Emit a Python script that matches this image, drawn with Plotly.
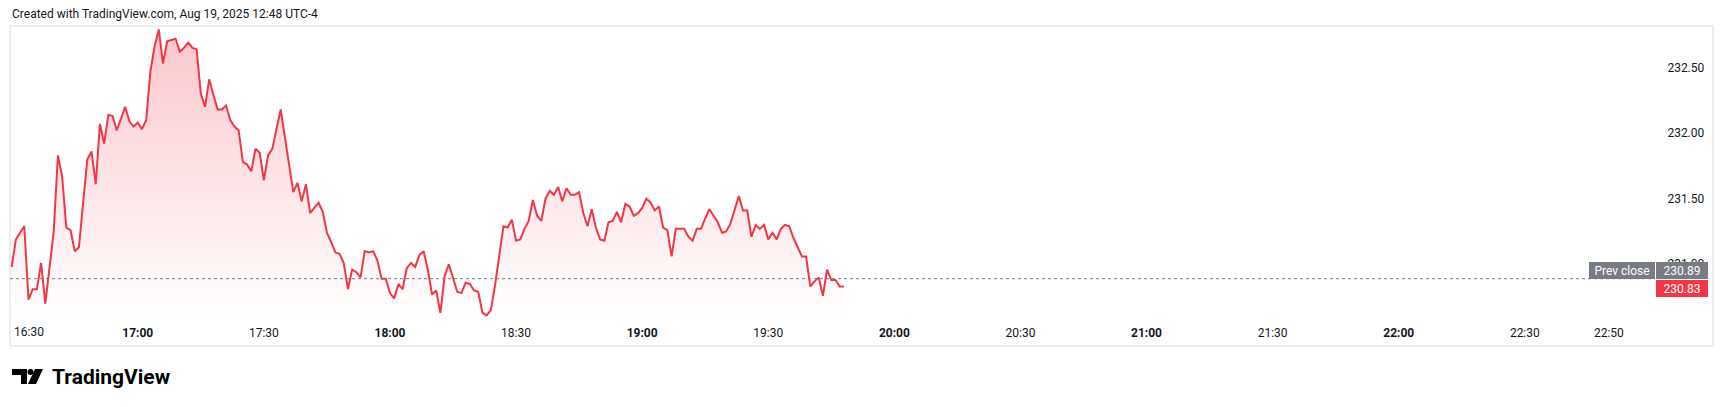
import pandas as pd
import plotly.graph_objects as go

# ---------------- data ----------------
prices = [
    230.98, 231.19, 231.24, 231.29, 230.73, 230.81, 230.81, 231.01, 230.70, 230.97,
    231.25, 231.83, 231.67, 231.28, 231.26, 231.10, 231.13, 231.47, 231.80, 231.86,
    231.61, 232.07, 231.92, 232.14, 232.13, 232.02, 232.11, 232.20, 232.09, 232.05,
    232.08, 232.03, 232.10, 232.47, 232.66, 232.79, 232.53, 232.70, 232.71, 232.72,
    232.62, 232.65, 232.69, 232.65, 232.64, 232.30, 232.20, 232.41, 232.29, 232.18,
    232.18, 232.21, 232.10, 232.05, 232.02, 231.78, 231.76, 231.71, 231.88, 231.85,
    231.64, 231.83, 231.88, 232.03, 232.18, 231.97, 231.76, 231.55, 231.62, 231.48,
    231.61, 231.39, 231.43, 231.47, 231.40, 231.24, 231.17, 231.09, 231.08, 231.01,
    230.81, 230.96, 230.94, 230.90, 231.10, 231.09, 231.10, 231.03, 230.89, 230.89,
    230.78, 230.74, 230.85, 230.81, 230.97, 231.01, 230.98, 231.07, 231.10, 230.96,
    230.77, 230.80, 230.63, 230.91, 231.00, 230.89, 230.79, 230.78, 230.86, 230.85,
    230.80, 230.79, 230.63, 230.61, 230.65, 230.84, 231.07, 231.29, 231.28, 231.34,
    231.18, 231.19, 231.27, 231.33, 231.49, 231.37, 231.33, 231.50, 231.56, 231.53,
    231.59, 231.48, 231.58, 231.53, 231.53, 231.55, 231.39, 231.29, 231.42, 231.28,
    231.19, 231.18, 231.32, 231.33, 231.40, 231.32, 231.46, 231.44, 231.37, 231.39,
    231.43, 231.50, 231.47, 231.41, 231.44, 231.28, 231.26, 231.06, 231.27, 231.27,
    231.27, 231.21, 231.18, 231.27, 231.27, 231.35, 231.42, 231.37, 231.32, 231.24,
    231.25, 231.31, 231.42, 231.52, 231.41, 231.41, 231.21, 231.30, 231.27, 231.30,
    231.19, 231.24, 231.19, 231.27, 231.30, 231.29, 231.20, 231.13, 231.06, 231.06,
    230.83, 230.87, 230.90, 230.76, 230.96, 230.88, 230.88, 230.83, 230.83,
]
session_date = "2025-08-19"
start_time = "16:30"
prev_close = 230.89
last_price = prices[-1]

x_tick_labels = ["17:00", "17:30", "18:00", "18:30", "19:00", "19:30", "20:00",
                 "20:30", "21:00", "21:30", "22:00", "22:30", "22:50"]
first_tick_label = "16:30"
y_tick_vals = [231.00, 231.50, 232.00, 232.50]
y_tick_text = ["231.00", "231.50", "232.00", "232.50"]

header_text = "Created with TradingView.com, Aug 19, 2025 12:48 UTC-4"
brand_text = "TradingView"

# ---------------- layout constants ----------------
W, H = 1724, 407
PL, PR, PT, PB = 10, 1654, 27, 317          # pane in pixels
X_RANGE = [f"{session_date} 16:29:36", f"{session_date} 23:00:44"]
Y_RANGE = [230.598, 232.809]

RED = "#F23645"
GREY_TAG = "#787B86"
TXT = "#131722"
FONT = "Roboto"


def px(x):
    return (x - PL) / (PR - PL)


def py(y):
    return (PB - y) / (PB - PT)


times = pd.date_range(f"{session_date} {start_time}", periods=len(prices), freq="min")
tick_vals = [pd.Timestamp(f"{session_date} {t}") for t in x_tick_labels]
tick_text = [f"<b>{t}</b>" if t.endswith(":00") else t for t in x_tick_labels]

fig = go.Figure()
# baseline at the bottom of the pane, used only as the lower edge of the area fill
fig.add_trace(go.Scatter(x=times, y=[Y_RANGE[0]] * len(times), mode="lines",
                         line=dict(width=0), hoverinfo="skip", showlegend=False))
fig.add_trace(go.Scatter(
    x=times, y=prices, mode="lines",
    line=dict(color=RED, width=2),
    fill="tonexty",
    fillgradient=dict(type="vertical",
                      colorscale=[[0, "rgba(242,54,69,0.0)"],
                                  [1, "rgba(242,54,69,0.28)"]]),
    showlegend=False, hoverinfo="skip",
))

shapes = [
    # previous close dotted line
    dict(type="line", xref="paper", yref="y", x0=0, x1=1, y0=prev_close, y1=prev_close,
         line=dict(color=GREY_TAG, width=1, dash="dot"), layer="above"),
    # outer frame
    dict(type="rect", xref="paper", yref="paper", x0=px(10), x1=px(1713),
         y0=py(346), y1=py(26), line=dict(color="#E6E8EE", width=1.5), layer="below"),
    # logo: T shape
    dict(type="rect", xref="paper", yref="paper", x0=px(12), x1=px(27), y0=py(375), y1=py(369),
         fillcolor="#000000", line=dict(width=0)),
    dict(type="rect", xref="paper", yref="paper", x0=px(21), x1=px(27), y0=py(384), y1=py(369),
         fillcolor="#000000", line=dict(width=0)),
    # logo: dot
    dict(type="circle", xref="paper", yref="paper", x0=px(27.5), x1=px(33.5), y0=py(375), y1=py(369),
         fillcolor="#000000", line=dict(width=0)),
    # logo: slash
    dict(type="path", xref="paper", yref="paper",
         path=(f"M {px(35)} {py(369)} L {px(43)} {py(369)} L {px(36)} {py(384)} "
               f"L {px(28)} {py(384)} Z"),
         fillcolor="#000000", line=dict(width=0)),
]

annotations = [
    dict(text=header_text, xref="paper", yref="paper", x=px(10), y=py(13.5),
         xanchor="left", yanchor="middle", showarrow=False,
         font=dict(family=FONT, size=12, color=TXT)),
    dict(text=first_tick_label, xref="x", yref="paper", x=times[0], y=py(332),
         xanchor="left", yanchor="middle", showarrow=False,
         font=dict(family=FONT, size=12, color=TXT)),
    dict(text="Prev close", xref="paper", yref="paper", x=px(1589), y=py(270.7),
         xanchor="left", yanchor="middle", showarrow=False, bgcolor=GREY_TAG,
         width=66, height=17, borderpad=0, borderwidth=0,
         font=dict(family=FONT, size=12, color="#FFFFFF")),
    dict(text=f"{prev_close:.2f}", xref="paper", yref="paper", x=px(1656), y=py(270.7),
         xanchor="left", yanchor="middle", showarrow=False, bgcolor=GREY_TAG,
         width=52, height=17, borderpad=0, borderwidth=0,
         font=dict(family=FONT, size=12, color="#FFFFFF")),
    dict(text=f"{last_price:.2f}", xref="paper", yref="paper", x=px(1656), y=py(288),
         xanchor="left", yanchor="middle", showarrow=False, bgcolor=RED,
         width=52, height=17, borderpad=0, borderwidth=0,
         font=dict(family=FONT, size=12, color="#FFFFFF")),
    dict(text=f"<b>{brand_text}</b>", xref="paper", yref="paper", x=px(50), y=py(376.5),
         xanchor="left", yanchor="middle", showarrow=False,
         font=dict(family=FONT, size=21, color="#000000")),
]

fig.update_layout(
    width=W, height=H,
    margin=dict(l=PL, r=W - PR, t=PT, b=H - PB, pad=0),
    paper_bgcolor="#FFFFFF", plot_bgcolor="#FFFFFF",
    showlegend=False, hovermode=False,
    xaxis=dict(type="date", range=X_RANGE, tickmode="array", tickvals=tick_vals,
               ticktext=tick_text, showgrid=False, zeroline=False, showline=False,
               ticks="outside", ticklen=5, tickcolor="rgba(0,0,0,0)",
               tickfont=dict(family=FONT, size=12, color=TXT), fixedrange=True),
    yaxis=dict(side="right", range=Y_RANGE, tickmode="array", tickvals=y_tick_vals,
               ticktext=y_tick_text, showgrid=False, zeroline=False, showline=False,
               ticks="outside", ticklen=10, tickcolor="rgba(0,0,0,0)",
               tickfont=dict(family=FONT, size=12, color=TXT), fixedrange=True),
    shapes=shapes,
    annotations=annotations,
)

fig.write_html(
    "out.html",
    config=dict(displayModeBar=False),
    post_script="document.body.style.margin='0';document.body.style.overflow='hidden';",
)
